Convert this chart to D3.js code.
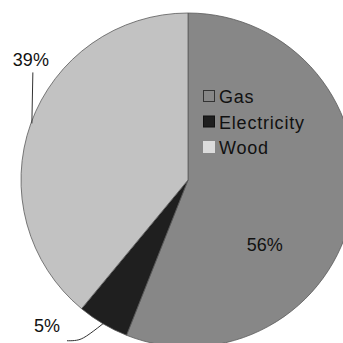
<!DOCTYPE html>
<html>
<head>
<meta charset="utf-8">
<script src="https://cdn.jsdelivr.net/npm/d3@7"></script>
<style>
  html, body { margin: 0; padding: 0; background: #fff; }
  svg { display: block; }
  text { font-family: "Liberation Sans", Arial, sans-serif; fill: #111; }
</style>
</head>
<body>
<svg id="chart" width="343" height="343"></svg>
<script>
// Heating fuel shares (percent)
const categories = ["Gas", "Electricity", "Wood"];
const shares = [56, 5, 39];
const sliceColors = ["#878787", "#1f1f1f", "#c2c2c2"];

const W = 343, H = 343;
const cx = 188, cy = 180, R = 167;

const svg = d3.select("#chart");
const g = svg.append("g").attr("transform", `translate(${cx},${cy})`);

const pie = d3.pie().sort(null).value(d => d.value);
const arcs = pie(categories.map((c, i) => ({ name: c, value: shares[i], color: sliceColors[i] })));
const arc = d3.arc().innerRadius(0).outerRadius(R);

g.selectAll("path.slice")
  .data(arcs)
  .join("path")
  .attr("class", "slice")
  .attr("d", arc)
  .attr("fill", d => d.data.color)
  .attr("stroke", "#5a5a5a")
  .attr("stroke-width", 0.8);

// point on the rim at the middle of a slice
const rimPoint = (d, r) => {
  const a = (d.startAngle + d.endAngle) / 2;
  return [r * Math.sin(a), -r * Math.cos(a)];
};

// Gas label inside the slice
const gasArc = arcs[0];
{
  const a = 130 * Math.PI / 180, r = 0.6 * R;
  g.append("text")
    .attr("x", r * Math.sin(a))
    .attr("y", -r * Math.cos(a) + 7)
    .attr("text-anchor", "middle")
    .attr("font-size", 18)
    .text(gasArc.data.value + "%");
}

// Electricity: leader line out to the lower left
{
  const d = arcs[1];
  const [px, py] = rimPoint(d, R);
  const line = d3.line().curve(d3.curveBasis);
  g.append("path")
    .attr("d", line([[px, py], [px - 18, py + 14], [px - 26, py + 17], [px - 36, py + 17]]))
    .attr("fill", "none")
    .attr("stroke", "#333")
    .attr("stroke-width", 1);
  g.append("text")
    .attr("x", px - 56)
    .attr("y", py + 8)
    .attr("text-anchor", "middle")
    .attr("font-size", 18)
    .text(d.data.value + "%");
}

// Wood: vertical leader line up to the label
{
  const d = arcs[2];
  const [px, py] = rimPoint(d, R);
  g.append("line")
    .attr("x1", px + 1).attr("y1", py)
    .attr("x2", px + 2).attr("y2", py - 51)
    .attr("stroke", "#333")
    .attr("stroke-width", 1);
  g.append("text")
    .attr("x", px)
    .attr("y", py - 57)
    .attr("text-anchor", "middle")
    .attr("font-size", 18)
    .text(d.data.value + "%");
}

// Legend
const legend = svg.append("g").attr("transform", "translate(203,90)");
const legendFill = ["#878787", "#1f1f1f", "#dcdcdc"];
const legendStroke = ["#333", "#111", "#dcdcdc"];
const items = legend.selectAll("g.item")
  .data(categories)
  .join("g")
  .attr("class", "item")
  .attr("transform", (d, i) => `translate(0,${i * 25.5})`);
items.append("rect")
  .attr("x", 0.5).attr("y", 0.5)
  .attr("width", 11).attr("height", 11)
  .attr("fill", (d, i) => legendFill[i])
  .attr("stroke", (d, i) => legendStroke[i]);
items.append("text")
  .attr("x", 16)
  .attr("y", 13)
  .attr("font-size", 18)
  .attr("letter-spacing", 0.8)
  .text(d => d);
</script>
</body>
</html>
